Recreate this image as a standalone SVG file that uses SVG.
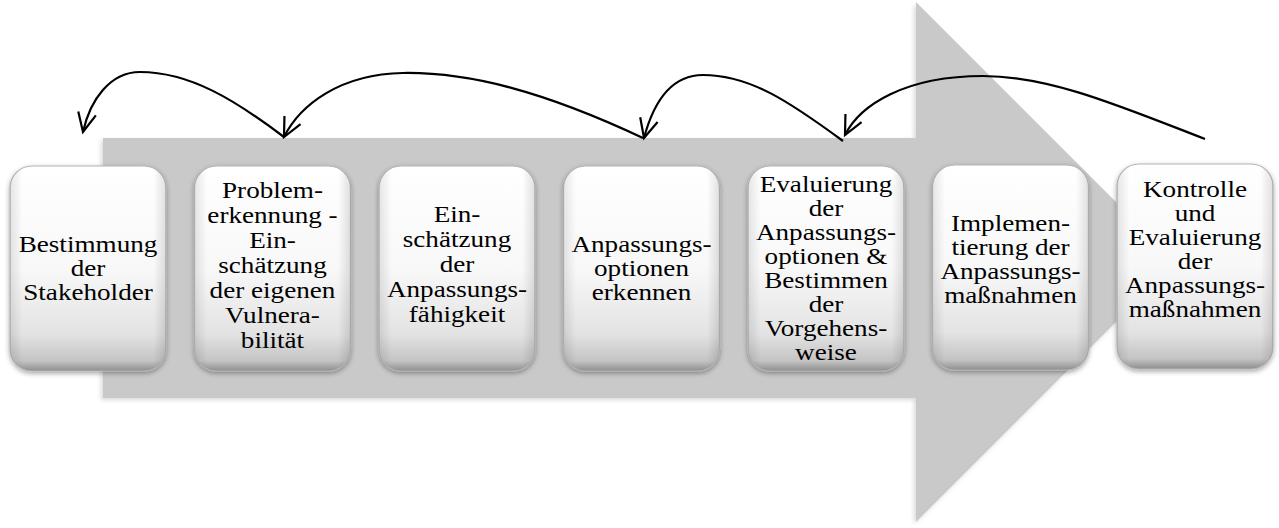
<svg xmlns="http://www.w3.org/2000/svg" width="1279" height="528" viewBox="0 0 1279 528">
<style>
.box{fill:url(#boxGrad);stroke:#b4b4b4;stroke-width:1.2;filter:url(#sh)}
.hl{fill:url(#hlGrad)}
.t{font-family:'Liberation Serif','Times New Roman',serif;font-size:23px;fill:#000;text-anchor:middle}
.conn{fill:none;stroke:#000;stroke-width:2.2;marker-end:url(#ah)}
</style>
<defs>
<linearGradient id="boxGrad" x1="0" y1="0" x2="0" y2="1">
<stop offset="0" stop-color="#ffffff"/>
<stop offset="0.5" stop-color="#f8f8f8"/>
<stop offset="0.82" stop-color="#e3e3e3"/>
<stop offset="0.95" stop-color="#c4c4c4"/>
<stop offset="1" stop-color="#8e8e8e"/>
</linearGradient>
<linearGradient id="hlGrad" x1="0" y1="0" x2="1" y2="0">
<stop offset="0" stop-color="#000" stop-opacity="0.10"/>
<stop offset="0.08" stop-color="#000" stop-opacity="0"/>
<stop offset="0.92" stop-color="#000" stop-opacity="0"/>
<stop offset="1" stop-color="#000" stop-opacity="0.12"/>
</linearGradient>
<filter id="sh" x="-20%" y="-20%" width="140%" height="140%">
<feDropShadow dx="0" dy="2" stdDeviation="2.5" flood-color="#000" flood-opacity="0.35"/>
</filter>
<filter id="ash" x="-5%" y="-5%" width="110%" height="110%">
<feDropShadow dx="-2" dy="2" stdDeviation="2" flood-color="#000" flood-opacity="0.15"/>
</filter>
<marker id="ah" markerUnits="userSpaceOnUse" markerWidth="30" markerHeight="30" viewBox="-25 -15 30 30" refX="0" refY="0" orient="auto" overflow="visible">
<path d="M-19,-9 L0,0 L-19,9" fill="none" stroke="#000" stroke-width="2.2" stroke-linejoin="miter"/>
</marker>
</defs>

<g id="bigArrow">
<polygon points="103,138 916,138 916,2 1176,262 916,522 916,398 103,398" fill="#c9c9c9" filter="url(#ash)"/>
</g>

<g id="connectors">
<path class="conn" d="M284,137 C235,100 190,72 140,72 C110,72 90,100 83,132"/>
<path class="conn" d="M643,138 C545,92 470,72 403,73 C340,74 300,105 284,137"/>
<path class="conn" d="M843,141 C790,102 750,75 703,75 C668,75 652,108 644,138"/>
<path class="conn" d="M1205,139 C1120,106 1050,76 983,76 C905,76 860,105 845,135"/>
</g>

<g id="n1">
<rect class="box" x="10" y="166" width="156" height="205" rx="22"/>
<rect class="hl" x="10" y="166" width="156" height="205" rx="22"/>
<text class="t" transform="translate(88,0) scale(1.18,1)"><tspan x="0" y="252">Bestimmung</tspan><tspan x="0" y="276">der</tspan><tspan x="0" y="300">Stakeholder</tspan></text>
</g>

<g id="n2">
<rect class="box" x="194.5" y="166" width="156" height="205" rx="22"/>
<rect class="hl" x="194.5" y="166" width="156" height="205" rx="22"/>
<text class="t" transform="translate(272.5,0) scale(1.18,1)"><tspan x="0" y="198">Problem-</tspan><tspan x="0" y="223">erkennung -</tspan><tspan x="0" y="248">Ein-</tspan><tspan x="0" y="273">schätzung</tspan><tspan x="0" y="298">der eigenen</tspan><tspan x="0" y="323">Vulnera-</tspan><tspan x="0" y="348">bilität</tspan></text>
</g>

<g id="n3">
<rect class="box" x="379" y="166" width="156" height="205" rx="22"/>
<rect class="hl" x="379" y="166" width="156" height="205" rx="22"/>
<text class="t" transform="translate(457,0) scale(1.18,1)"><tspan x="0" y="222">Ein-</tspan><tspan x="0" y="247">schätzung</tspan><tspan x="0" y="272">der</tspan><tspan x="0" y="297">Anpassungs-</tspan><tspan x="0" y="322">fähigkeit</tspan></text>
</g>

<g id="n4">
<rect class="box" x="563.5" y="166" width="156" height="205" rx="22"/>
<rect class="hl" x="563.5" y="166" width="156" height="205" rx="22"/>
<text class="t" transform="translate(641.5,0) scale(1.18,1)"><tspan x="0" y="252">Anpassungs-</tspan><tspan x="0" y="276">optionen</tspan><tspan x="0" y="300">erkennen</tspan></text>
</g>

<g id="n5">
<rect class="box" x="748" y="166" width="156" height="205" rx="22"/>
<rect class="hl" x="748" y="166" width="156" height="205" rx="22"/>
<text class="t" transform="translate(826,0) scale(1.18,1)"><tspan x="0" y="192">Evaluierung</tspan><tspan x="0" y="216">der</tspan><tspan x="0" y="240">Anpassungs-</tspan><tspan x="0" y="264">optionen &amp;</tspan><tspan x="0" y="288">Bestimmen</tspan><tspan x="0" y="312">der</tspan><tspan x="0" y="336">Vorgehens-</tspan><tspan x="0" y="360">weise</tspan></text>
</g>

<g id="n6">
<rect class="box" x="932.5" y="165" width="156" height="205" rx="22"/>
<rect class="hl" x="932.5" y="165" width="156" height="205" rx="22"/>
<text class="t" transform="translate(1010.5,0) scale(1.18,1)"><tspan x="0" y="231">Implemen-</tspan><tspan x="0" y="255">tierung der</tspan><tspan x="0" y="279">Anpassungs-</tspan><tspan x="0" y="303">maßnahmen</tspan></text>
</g>

<g id="n7">
<rect class="box" x="1117" y="164" width="156" height="205" rx="22"/>
<rect class="hl" x="1117" y="164" width="156" height="205" rx="22"/>
<text class="t" transform="translate(1195,0) scale(1.18,1)"><tspan x="0" y="197">Kontrolle</tspan><tspan x="0" y="221">und</tspan><tspan x="0" y="245">Evaluierung</tspan><tspan x="0" y="269">der</tspan><tspan x="0" y="293">Anpassungs-</tspan><tspan x="0" y="317">maßnahmen</tspan></text>
</g>
</svg>
